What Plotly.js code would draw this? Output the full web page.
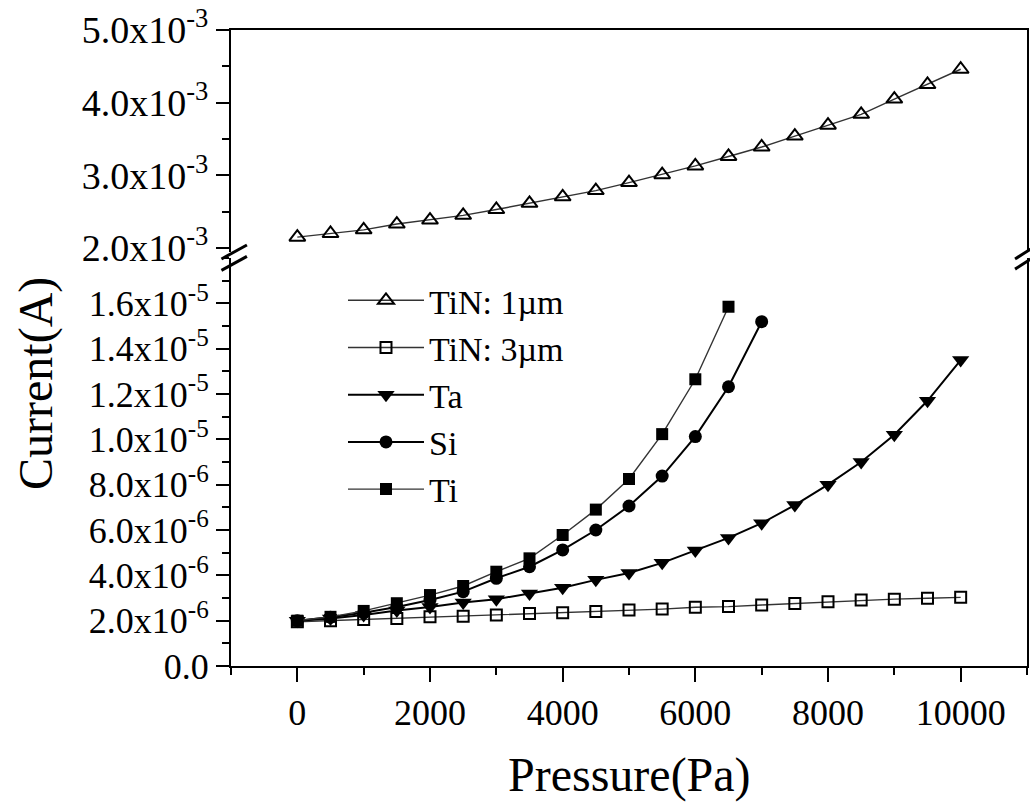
<!DOCTYPE html>
<html>
<head>
<meta charset="utf-8">
<script src="https://cdn.plot.ly/plotly-3.0.1.min.js"></script>
<style>
html,body{margin:0;padding:0;background:#fff;}
#chart{width:1030px;height:804px;}
#chart svg text, #chart svg tspan { font-family: "Liberation Serif", serif !important; }
</style>
</head>
<body>
<div id="chart"></div>
<script>
// ---- data ----
const pressure = [0,500,1000,1500,2000,2500,3000,3500,4000,4500,5000,5500,6000,6500,7000,7500,8000,8500,9000,9500,10000];
const tin1 = [2.15e-3,2.20e-3,2.25e-3,2.33e-3,2.385e-3,2.45e-3,2.53e-3,2.615e-3,2.705e-3,2.79e-3,2.90e-3,3.01e-3,3.13e-3,3.26e-3,3.39e-3,3.54e-3,3.69e-3,3.84e-3,4.05e-3,4.25e-3,4.46e-3];
const tin3 = [1.95e-6,2.0e-6,2.05e-6,2.1e-6,2.17e-6,2.2e-6,2.25e-6,2.32e-6,2.35e-6,2.4e-6,2.47e-6,2.51e-6,2.59e-6,2.62e-6,2.69e-6,2.76e-6,2.84e-6,2.91e-6,2.95e-6,2.99e-6,3.03e-6];
const ta = [2.0e-6,2.1e-6,2.25e-6,2.45e-6,2.6e-6,2.8e-6,2.95e-6,3.2e-6,3.45e-6,3.8e-6,4.1e-6,4.55e-6,5.1e-6,5.65e-6,6.3e-6,7.1e-6,8.0e-6,9.0e-6,10.2e-6,11.7e-6,13.5e-6];
const siP = [0,500,1000,1500,2000,2500,3000,3500,4000,4500,5000,5500,6000,6500,7000];
const si = [2.0e-6,2.15e-6,2.35e-6,2.6e-6,2.91e-6,3.28e-6,3.87e-6,4.38e-6,5.12e-6,6.0e-6,7.06e-6,8.38e-6,10.12e-6,12.32e-6,15.19e-6];
const tiP = [0,500,1000,1500,2000,2500,3000,3500,4000,4500,5000,5500,6000,6500];
const ti = [2.0e-6,2.17e-6,2.43e-6,2.77e-6,3.13e-6,3.53e-6,4.16e-6,4.75e-6,5.78e-6,6.9e-6,8.25e-6,10.23e-6,12.65e-6,15.85e-6];
const names = ['TiN: 1\u00b5m','TiN: 3\u00b5m','Ta','Si','Ti'];

const xTicks = [0,2000,4000,6000,8000,10000];
const yUpTicks = [2e-3,3e-3,4e-3,5e-3];
const yUpText = ['2.0x10<sup>-3</sup>','3.0x10<sup>-3</sup>','4.0x10<sup>-3</sup>','5.0x10<sup>-3</sup>'];
const yLoTicks = [0,2e-6,4e-6,6e-6,8e-6,1e-5,1.2e-5,1.4e-5,1.6e-5];
const yLoText = ['0.0','2.0x10<sup>-6</sup>','4.0x10<sup>-6</sup>','6.0x10<sup>-6</sup>','8.0x10<sup>-6</sup>','1.0x10<sup>-5</sup>','1.2x10<sup>-5</sup>','1.4x10<sup>-5</sup>','1.6x10<sup>-5</sup>'];

const F = '"Liberation Serif", serif';
const thin = {color:'#333', width:1.4};
const thick = {color:'#000', width:2};

const traces = [
  {x:pressure, y:tin1, name:names[0], xaxis:'x2', yaxis:'y2', mode:'lines+markers', legendgroup:'a',
   line:thin, marker:{symbol:'triangle-up-open', size:14, color:'#000', line:{width:2,color:'#000'}}},
  {x:pressure, y:tin3, name:names[1], mode:'lines+markers', legendgroup:'b',
   line:thin, marker:{symbol:'square-open', size:11, color:'#000', line:{width:2,color:'#000'}}},
  {x:pressure, y:ta, name:names[2], mode:'lines+markers', legendgroup:'c',
   line:thick, marker:{symbol:'triangle-down', size:15, color:'#000'}},
  {x:siP, y:si, name:names[3], mode:'lines+markers', legendgroup:'d',
   line:thick, marker:{symbol:'circle', size:13, color:'#000'}},
  {x:tiP, y:ti, name:names[4], mode:'lines+markers', legendgroup:'e',
   line:thin, marker:{symbol:'square', size:12, color:'#000'}}
];

const layout = {
  width:1030, height:804,
  margin:{l:231, r:3, t:30, b:138},
  paper_bgcolor:'#fff', plot_bgcolor:'#fff',
  showlegend:true,
  font:{family:F, color:'#000'},
  legend:{x:0.1407, xanchor:'left', y:0.62, yanchor:'top', font:{family:F, size:34, color:'#000'},
          bgcolor:'rgba(0,0,0,0)', tracegroupgap:0, itemwidth:76},
  xaxis:{domain:[0,1], range:[-1000,11000], anchor:'y', tickvals:xTicks, ticktext:xTicks.map(String),
         ticks:'outside', ticklen:14, tickwidth:2, tickcolor:'#000',
         minor:{dtick:1000, tick0:0, ticks:'outside', ticklen:7, tickwidth:2, tickcolor:'#000'},
         showline:true, linecolor:'#000', linewidth:2, mirror:false, showgrid:false, zeroline:false,
         tickfont:{family:F, size:36, color:'#000'}},
  xaxis2:{domain:[0,1], range:[-1000,11000], anchor:'y2', matches:'x', side:'top', showticklabels:false,
          ticks:'', showline:true, linecolor:'#000', linewidth:2, showgrid:false, zeroline:false},
  yaxis:{domain:[0,0.6415], range:[0,1.8e-5], tickvals:yLoTicks, ticktext:yLoText,
         ticks:'outside', ticklen:13, tickwidth:2, tickcolor:'#000',
         minor:{dtick:1e-6, tick0:0, ticks:'outside', ticklen:7, tickwidth:2, tickcolor:'#000'},
         showline:true, linecolor:'#000', linewidth:2, mirror:true, showgrid:false, zeroline:false,
         tickfont:{family:F, size:36, color:'#000'}},
  yaxis2:{domain:[0.6509,1], range:[1.945e-3,5.0e-3], anchor:'x2', tickvals:yUpTicks, ticktext:yUpText,
          ticks:'outside', ticklen:13, tickwidth:2, tickcolor:'#000',
          minor:{dtick:5e-4, tick0:0, ticks:'outside', ticklen:7, tickwidth:2, tickcolor:'#000'},
          showline:true, linecolor:'#000', linewidth:2, mirror:true, showgrid:false, zeroline:false,
          tickfont:{family:F, size:38, color:'#000'}},
  annotations:[
    {text:'Current(A)', xref:'paper', yref:'paper', x:-0.245, y:0.445, textangle:-90, showarrow:false,
     xanchor:'center', yanchor:'middle', font:{family:F, size:48, color:'#000'}},
    {text:'Pressure(Pa)', xref:'paper', yref:'paper', x:0.5, y:-0.172, showarrow:false,
     xanchor:'center', yanchor:'middle', font:{family:F, size:48, color:'#000'}}
  ],
  shapes:[
    // axis-break marks (left and right)
    {type:'line', xref:'paper', yref:'paper', x0:-0.012, x1:0.02, y0:0.640, y1:0.662, line:{color:'#000', width:3}},
    {type:'line', xref:'paper', yref:'paper', x0:-0.012, x1:0.02, y0:0.622, y1:0.644, line:{color:'#000', width:3}},
    {type:'line', xref:'paper', yref:'paper', x0:0.985, x1:1.005, y0:0.640, y1:0.656, line:{color:'#000', width:3}},
    {type:'line', xref:'paper', yref:'paper', x0:0.985, x1:1.005, y0:0.624, y1:0.640, line:{color:'#000', width:3}}
  ]
};
Plotly.newPlot('chart', traces, layout, {staticPlot:true, displayModeBar:false});
</script>
</body>
</html>
